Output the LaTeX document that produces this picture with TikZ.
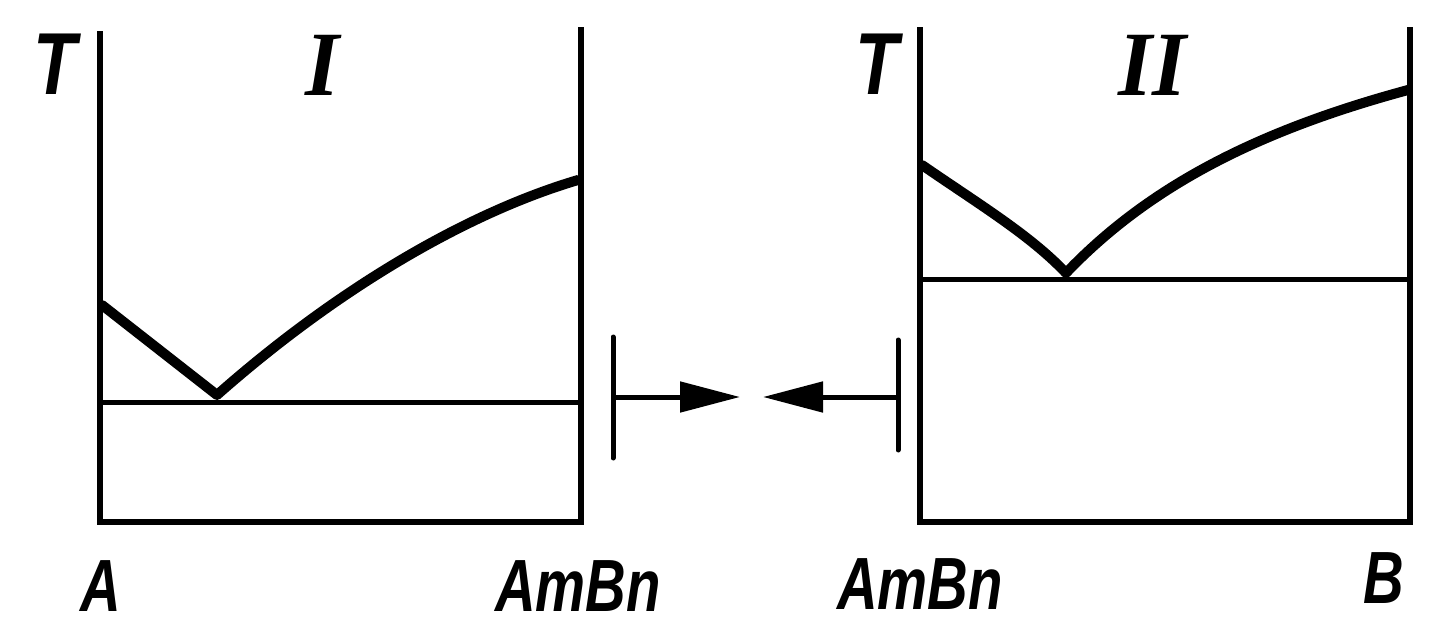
\documentclass[tikz,border=0pt]{standalone}
\usepackage{fontspec}
\setmainfont{Liberation Sans}
\newfontfamily\numfont{Liberation Serif}
\usetikzlibrary{arrows.meta}
\tikzset{
  axis/.style={line width=6.5pt, line cap=rect},
  level/.style={line width=5pt},
  liq/.style={line width=10pt, line join=round, line cap=round},
  lbl/.style={inner sep=0pt, font=\fontsize{74}{74}\selectfont\itshape\bfseries, xscale=0.76},
  tlbl/.style={inner sep=0pt, font=\fontsize{88}{88}\selectfont\itshape\bfseries, xscale=0.8},
  rlbl/.style={inner sep=0pt, font=\fontsize{92}{92}\selectfont\numfont\itshape\bfseries, xscale=0.95},
  tick/.style={line width=5pt, line cap=round},
  arr/.style={line width=5pt, -{Triangle[length=60pt,width=30pt]}}
}
\begin{document}
\begin{tikzpicture}[x=1pt,y=-1pt]
\useasboundingbox (0,0) rectangle (1436,631);
% left diagram
\coordinate (l1) at (100,34);
\coordinate (l2) at (100,522);
\coordinate (l3) at (581,522);
\coordinate (l4) at (581,30);
\draw[axis] (l1) -- (l2) -- (l3) -- (l4);
\coordinate (le1) at (100,402);
\coordinate (le2) at (581,402);
\draw[level] (le1) -- (le2);
\coordinate (lc1) at (102,305);
\coordinate (lce) at (217,395);
\coordinate (lc2) at (578,180);
\draw[liq] (lc1) -- (lce) .. controls (330,295) and (460,215) .. (lc2);
% right diagram
\coordinate (r1) at (920,30);
\coordinate (r2) at (920,522);
\coordinate (r3) at (1410,522);
\coordinate (r4) at (1410,30);
\draw[axis] (r1) -- (r2) -- (r3) -- (r4);
\coordinate (re1) at (920,280);
\coordinate (re2) at (1410,280);
\draw[level] (re1) -- (re2);
\coordinate (rc1) at (922,165);
\coordinate (rce) at (1066,273);
\coordinate (rc2) at (1408,90);
\draw[liq] (rc1) .. controls (980,205) and (1030,235) .. (rce) .. controls (1150,185) and (1260,130) .. (rc2);
% arrows
\coordinate (ta1) at (613,337);
\coordinate (ta2) at (613,458);
\coordinate (tb1) at (898,340);
\coordinate (tb2) at (898,450);
\draw[tick] (ta1) -- (ta2);
\draw[tick] (tb1) -- (tb2);
\coordinate (a0) at (613,397);
\coordinate (a1) at (740,397);
\coordinate (b0) at (898,397);
\coordinate (b1) at (763,397);
\draw[arr] (a0) -- (a1);
\draw[arr] (b0) -- (b1);
% labels
\node[tlbl] (tL) at (55,64) {T};
\node[rlbl] (nI) at (323,65) {I};
\node[tlbl] (tR) at (877,64) {T};
\node[rlbl] (nII) at (1153,65) {II};
\node[lbl] (A) at (101,586) {A};
\node[lbl] (AB1) at (578,586) {AmBn};
\node[lbl] (AB2) at (920,584) {AmBn};
\node[lbl] (B) at (1384,578) {B};
\end{tikzpicture}
\end{document}
